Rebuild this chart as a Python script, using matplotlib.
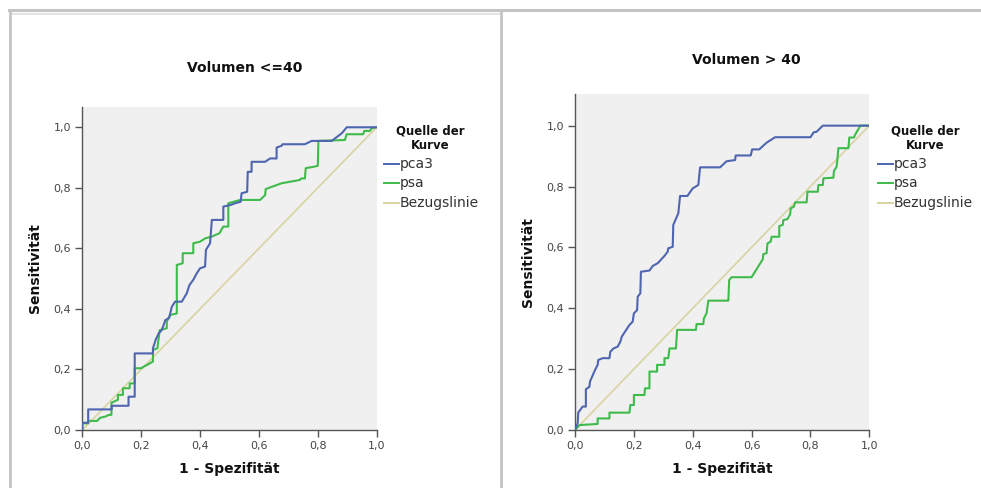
import matplotlib
matplotlib.use("Agg")
import matplotlib.pyplot as plt
from matplotlib.lines import Line2D
from matplotlib.ticker import FuncFormatter

# ---------------- data ----------------
titles = ["Volumen <=40", "Volumen > 40"]
series_names = ["pca3", "psa", "Bezugslinie"]
tick_values = [0.0, 0.2, 0.4, 0.6, 0.8, 1.0]

left_pca3_fpr = [0, 0, 0.02, 0.02, 0.1, 0.1, 0.157, 0.157, 0.178, 0.178, 0.24, 0.24, 0.25, 0.26, 0.27, 0.282,
                 0.295, 0.304, 0.315, 0.338, 0.355, 0.364, 0.377, 0.389, 0.4, 0.417, 0.42, 0.434, 0.44, 0.479,
                 0.479, 0.502, 0.519, 0.538, 0.541, 0.56, 0.562, 0.575, 0.575, 0.621, 0.638, 0.66, 0.66, 0.677,
                 0.68, 0.756, 0.779, 0.847, 0.881, 0.89, 0.898, 1.0]
left_pca3_tpr = [0, 0.024, 0.024, 0.068, 0.068, 0.08, 0.08, 0.11, 0.11, 0.253, 0.253, 0.27, 0.3, 0.32, 0.33, 0.363,
                 0.37, 0.407, 0.424, 0.424, 0.452, 0.479, 0.496, 0.518, 0.534, 0.54, 0.595, 0.617, 0.694, 0.694,
                 0.738, 0.743, 0.749, 0.754, 0.782, 0.787, 0.853, 0.853, 0.886, 0.886, 0.897, 0.897, 0.933, 0.939,
                 0.944, 0.944, 0.955, 0.955, 0.98, 0.99, 1.0, 1.0]

left_psa_fpr = [0, 0, 0.02, 0.02, 0.05, 0.06, 0.08, 0.09, 0.099, 0.099, 0.121, 0.121, 0.138, 0.138, 0.161, 0.161,
                0.178, 0.178, 0.2, 0.21, 0.22, 0.24, 0.24, 0.255, 0.263, 0.287, 0.287, 0.298, 0.321, 0.321, 0.341,
                0.341, 0.377, 0.377, 0.4, 0.417, 0.44, 0.466, 0.479, 0.496, 0.496, 0.536, 0.604, 0.621, 0.623,
                0.677, 0.739, 0.743, 0.756, 0.759, 0.788, 0.8, 0.802, 0.892, 0.898, 0.954, 0.958, 0.977, 0.983, 1.0]
left_psa_tpr = [0, 0.022, 0.022, 0.03, 0.03, 0.04, 0.045, 0.05, 0.05, 0.09, 0.1, 0.116, 0.116, 0.138, 0.138, 0.154,
                0.154, 0.204, 0.204, 0.21, 0.215, 0.226, 0.264, 0.27, 0.33, 0.336, 0.358, 0.38, 0.385, 0.545, 0.551,
                0.584, 0.584, 0.617, 0.622, 0.633, 0.639, 0.65, 0.672, 0.672, 0.749, 0.76, 0.76, 0.776, 0.796,
                0.815, 0.826, 0.831, 0.831, 0.865, 0.87, 0.873, 0.955, 0.958, 0.977, 0.977, 0.988, 0.988, 0.997, 1.0]

right_pca3_fpr = [0, 0.009, 0.011, 0.026, 0.037, 0.037, 0.049, 0.051, 0.063, 0.068, 0.077, 0.079, 0.094, 0.117,
                  0.12, 0.131, 0.145, 0.154, 0.159, 0.185, 0.196, 0.2, 0.211, 0.213, 0.222, 0.224, 0.253, 0.264,
                  0.281, 0.304, 0.315, 0.317, 0.332, 0.334, 0.351, 0.357, 0.382, 0.4, 0.419, 0.425, 0.493, 0.515,
                  0.544, 0.546, 0.597, 0.602, 0.626, 0.651, 0.68, 0.8, 0.811, 0.821, 0.842, 1.0]
right_pca3_tpr = [0, 0.022, 0.057, 0.077, 0.077, 0.134, 0.142, 0.159, 0.186, 0.197, 0.214, 0.23, 0.236, 0.236,
                  0.257, 0.268, 0.274, 0.29, 0.307, 0.345, 0.356, 0.383, 0.394, 0.438, 0.449, 0.52, 0.524, 0.539,
                  0.548, 0.572, 0.586, 0.597, 0.602, 0.674, 0.712, 0.769, 0.769, 0.794, 0.805, 0.863, 0.863, 0.883,
                  0.887, 0.902, 0.902, 0.922, 0.922, 0.944, 0.962, 0.962, 0.978, 0.98, 1.0, 1.0]

right_psa_fpr = [0, 0.015, 0.077, 0.077, 0.117, 0.117, 0.185, 0.188, 0.2, 0.2, 0.236, 0.238, 0.253, 0.253, 0.279,
                 0.279, 0.304, 0.304, 0.317, 0.321, 0.343, 0.347, 0.411, 0.413, 0.436, 0.438, 0.447, 0.453, 0.521,
                 0.524, 0.532, 0.6, 0.638, 0.64, 0.651, 0.654, 0.665, 0.668, 0.694, 0.694, 0.706, 0.708, 0.722,
                 0.731, 0.733, 0.744, 0.748, 0.787, 0.79, 0.825, 0.827, 0.842, 0.844, 0.878, 0.88, 0.889, 0.891,
                 0.895, 0.929, 0.932, 0.948, 0.951, 0.968, 0.97, 1.0]
right_psa_tpr = [0, 0.016, 0.02, 0.038, 0.038, 0.057, 0.057, 0.082, 0.082, 0.115, 0.115, 0.137, 0.137, 0.192,
                 0.192, 0.214, 0.214, 0.236, 0.236, 0.268, 0.268, 0.329, 0.329, 0.348, 0.348, 0.367, 0.383, 0.425,
                 0.425, 0.493, 0.502, 0.502, 0.561, 0.578, 0.581, 0.613, 0.619, 0.635, 0.635, 0.67, 0.674, 0.69,
                 0.693, 0.709, 0.728, 0.734, 0.748, 0.748, 0.783, 0.783, 0.805, 0.805, 0.827, 0.829, 0.851, 0.865,
                 0.884, 0.926, 0.926, 0.961, 0.961, 0.969, 0.997, 1.0, 1.0]

ref_line = [0.0, 1.0]

panels = [
    (left_pca3_fpr, left_pca3_tpr, left_psa_fpr, left_psa_tpr),
    (right_pca3_fpr, right_pca3_tpr, right_psa_fpr, right_psa_tpr),
]

# ---------------- style ----------------
W, H = 981, 488
C_PCA3 = "#4f65b0"
C_PSA = "#3fbb4c"
C_REF = "#d8d3a2"
C_BG = "#f0f0f0"
C_AX = "#555555"

fig = plt.figure(figsize=(W / 100, H / 100), dpi=100)
fig.patch.set_facecolor("white")

def fx(px):
    return px / W

def fy(py):
    return 1 - py / H

# axes geometry in pixels: (x0, x1, y_top, y_zero, ymax)
geo = [(82.3, 376.7, 106.7, 430.0, 1.068), (575.0, 869.3, 94.0, 430.0, 1.104)]
title_pos = [(245, 68), (746, 60)]
legend_pos = [(430, 384), (925, 878)]

tick_font = ["Liberation Sans Narrow", "DejaVu Sans Condensed", "DejaVu Sans"]
fmt = FuncFormatter(lambda v, p: f"{v:.1f}".replace(".", ","))

for i, (x0, x1, ytop, yzero, ymax) in enumerate(geo):
    ax = fig.add_axes([fx(x0), fy(yzero), (x1 - x0) / W, (yzero - ytop) / H])
    ax.set_facecolor(C_BG)
    pf, pt, sf, st = panels[i]
    ax.plot(ref_line, ref_line, color=C_REF, lw=1.2, zorder=2)
    ax.plot(sf, st, color=C_PSA, lw=1.5, zorder=3)
    ax.plot(pf, pt, color=C_PCA3, lw=1.5, zorder=4)
    ax.set_xlim(0, 1)
    ax.set_ylim(0, ymax)
    ax.set_xticks(tick_values)
    ax.set_yticks(tick_values)
    ax.xaxis.set_major_formatter(fmt)
    ax.yaxis.set_major_formatter(fmt)
    for s in ["top", "right"]:
        ax.spines[s].set_visible(False)
    for s in ["left", "bottom"]:
        ax.spines[s].set_color(C_AX)
        ax.spines[s].set_linewidth(1.0)
    ax.tick_params(direction="out", length=5, width=1, color=C_AX, labelsize=8,
                   labelcolor="#444444", pad=3)
    for lab in ax.get_xticklabels() + ax.get_yticklabels():
        lab.set_family(tick_font)
    ax.set_xlabel("1 - Spezifität", fontsize=10, fontweight="bold", labelpad=8, color="#111111")
    ax.set_ylabel("Sensitivität", fontsize=10, fontweight="bold", labelpad=8, color="#111111")

    tx, ty = title_pos[i]
    fig.text(fx(tx), fy(ty), titles[i], ha="center", va="center", fontsize=10,
             fontweight="bold", color="#111111")

    # legend
    cx, lx = legend_pos[i]
    fig.text(fx(cx), fy(131), "Quelle der", ha="center", va="center", fontsize=8.5,
             fontweight="bold", color="#111111")
    fig.text(fx(cx), fy(145), "Kurve", ha="center", va="center", fontsize=8.5,
             fontweight="bold", color="#111111")
    for name, col, yy in zip(series_names, [C_PCA3, C_PSA, C_REF], [164, 183, 203]):
        fig.add_artist(Line2D([fx(lx), fx(lx + 15)], [fy(yy), fy(yy)], color=col, lw=1.4,
                              transform=fig.transFigure))
        fig.text(fx(lx + 16), fy(yy), name, ha="left", va="center", fontsize=10, color="#333333")

# panel frame lines
frame_col = "#c4c4c4"
fig.add_artist(Line2D([fx(9), 1.0], [fy(10), fy(10)], color=frame_col, lw=2.2, transform=fig.transFigure))
fig.add_artist(Line2D([fx(11), fx(500)], [fy(13.5), fy(13.5)], color="#dddddd", lw=1.2, transform=fig.transFigure))
fig.add_artist(Line2D([fx(9.5), fx(9.5)], [fy(10), 0], color=frame_col, lw=2.0, transform=fig.transFigure))
fig.add_artist(Line2D([fx(501), fx(501)], [fy(10), 0], color=frame_col, lw=2.0, transform=fig.transFigure))

fig.savefig("out.png", dpi=100, facecolor="white")
